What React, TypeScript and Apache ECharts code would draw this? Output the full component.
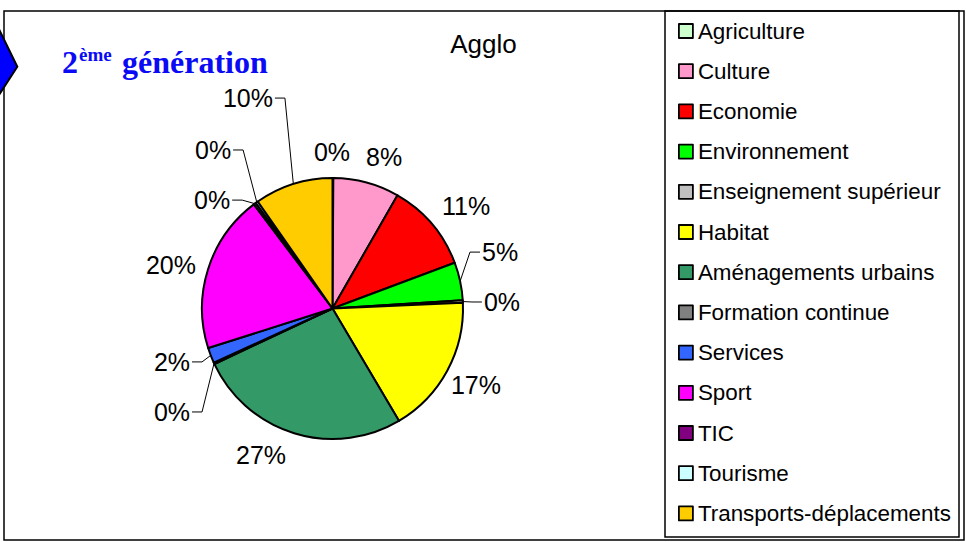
import React, { useEffect, useRef } from "react";
import * as echarts from "echarts";

const categories = [
  "Agriculture",
  "Culture",
  "Economie",
  "Environnement",
  "Enseignement supérieur",
  "Habitat",
  "Aménagements urbains",
  "Formation continue",
  "Services",
  "Sport",
  "TIC",
  "Tourisme",
  "Transports-déplacements",
];
const values = [0.1, 8.2, 11.0, 4.7, 0.3, 17.2, 26.5, 0.2, 1.9, 19.6, 0.3, 0.3, 9.7];
const colors = [
  "#CCFFCC",
  "#FF99CC",
  "#FF0000",
  "#00FF00",
  "#C0C0C0",
  "#FFFF00",
  "#339966",
  "#808080",
  "#3366FF",
  "#FF00FF",
  "#800080",
  "#CCFFFF",
  "#FFCC00",
];
// label placement (polar, relative to the pie centre): angle clockwise from top (deg), distance (px), leader line
const labelAngle = [359.8, 18.8, 52.5, 71.4, 87.8, 118.1, 206, 237.2, 251.6, 285.1, 312, 323, 338.1];
const labelDist = [156.5, 160, 168.3, 176.8, 169.6, 162.6, 163, 191, 169.2, 167.3, 162, 198.5, 226.8];
const labelLeader = [false, false, false, true, true, false, false, true, true, false, true, true, true];

const CX = 332.5;
const CY = 308.5;
const R = 130.5;
const FONT = "'Liberation Sans', Arial, sans-serif";
const SERIF = "'Liberation Serif', 'Times New Roman', serif";
const TITLE_BLUE = "#0A0AF5";

export default function App() {
  const ref = useRef<HTMLDivElement>(null);
  useEffect(() => {
    if (!ref.current) return;
    const chart = echarts.init(ref.current, null, { renderer: "svg" });
    const total = values.reduce((a, b) => a + b, 0);
    const mids: number[] = [];
    let acc = 0;
    values.forEach((v) => {
      mids.push(((acc + v / 2) / total) * 360);
      acc += v;
    });
    const polar = (deg: number, r: number) => {
      const a = (deg * Math.PI) / 180;
      return [CX + r * Math.sin(a), CY - r * Math.cos(a)];
    };
    chart.setOption({
      animation: false,
      backgroundColor: "#fff",
      graphic: [
        {
          type: "rect",
          shape: { x: 4, y: 11, width: 960, height: 529 },
          style: { fill: "none", stroke: "#000", lineWidth: 1.5 },
          z: 10,
        },
        {
          type: "rect",
          shape: { x: 665, y: 11, width: 294, height: 526 },
          style: { fill: "none", stroke: "#000", lineWidth: 1.5 },
          z: 10,
        },
        {
          type: "polygon",
          shape: { points: [[-5, 21], [17.3, 66.7], [-5, 101]] },
          style: { fill: "#0000FF", stroke: "#000", lineWidth: 2 },
          z: 11,
        },
        {
          type: "text",
          x: 62,
          y: 61.5,
          style: {
            text: "2",
            font: `bold 32px ${SERIF}`,
            fill: TITLE_BLUE,
            verticalAlign: "middle",
            align: "left",
          },
        },
        {
          type: "text",
          x: 79,
          y: 54,
          style: {
            text: "ème",
            font: `bold 19px ${SERIF}`,
            fill: TITLE_BLUE,
            verticalAlign: "middle",
            align: "left",
          },
        },
        {
          type: "text",
          x: 122,
          y: 61.5,
          style: {
            text: "génération",
            font: `bold 32px ${SERIF}`,
            fill: TITLE_BLUE,
            verticalAlign: "middle",
            align: "left",
          },
        },
      ],
      title: {
        text: "Agglo",
        left: 478.5,
        top: 26,
        textAlign: "center",
        textStyle: { fontFamily: FONT, fontSize: 26, fontWeight: "normal", color: "#000" },
      },
      legend: {
        orient: "vertical",
        left: 678,
        top: 19,
        padding: 0,
        itemWidth: 14,
        itemHeight: 14,
        itemGap: 16.2,
        icon: "rect",
        selectedMode: false,
        data: categories,
        itemStyle: { borderColor: "#000", borderWidth: 1.8 },
        textStyle: { fontFamily: FONT, fontSize: 22.4, color: "#000", lineHeight: 24 },
      },
      series: [
        {
          type: "pie",
          center: [CX, CY],
          radius: R,
          startAngle: 90,
          clockwise: true,
          avoidLabelOverlap: false,
          itemStyle: { borderColor: "#000", borderWidth: 2 },
          label: {
            show: true,
            position: "outside",
            fontFamily: FONT,
            fontSize: 25,
            color: "#000",
            formatter: (p: any) => Math.round(p.percent) + "%",
          },
          labelLine: { show: true, lineStyle: { color: "#000", width: 1 } },
          labelLayout: (p: any) => {
            const i = p.dataIndex;
            const [x, y] = polar(labelAngle[i], labelDist[i]);
            const out: any = { x, y, align: "center", verticalAlign: "middle" };
            if (labelLeader[i]) {
              const w = p.labelRect.width;
              const edge = polar(mids[i], R);
              const right = x < CX;
              const sideX = right ? x + w / 2 + 2 : x - w / 2 - 2;
              const elbowX = right ? sideX + 10 : sideX - 10;
              out.labelLinePoints = [edge, [elbowX, y], [sideX, y]];
            }
            return out;
          },
          data: categories.map((name, i) => ({
            name,
            value: values[i],
            itemStyle: { color: colors[i] },
            labelLine: { show: labelLeader[i] },
          })),
        },
      ],
    });
    return () => chart.dispose();
  }, []);
  return (
    <div
      ref={ref}
      style={{ position: "absolute", left: 0, top: 0, width: 966, height: 542 }}
    />
  );
}
